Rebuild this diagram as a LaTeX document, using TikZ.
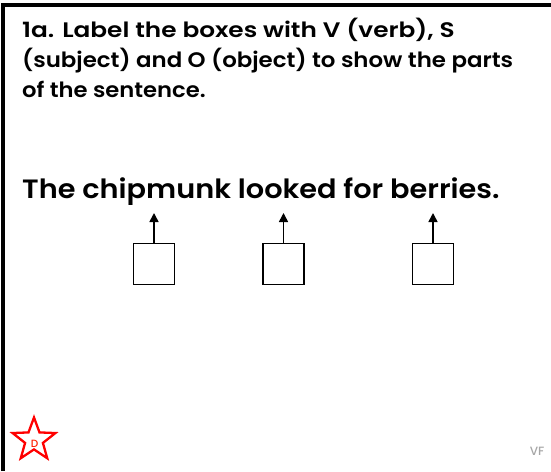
\documentclass[tikz,border=0pt]{standalone}
\usepackage{fontspec}
\setmainfont{Poppins}[UprightFont=* Medium, BoldFont=* SemiBold]
\newfontfamily\titlefonta{Poppins SemiBold}[FakeStretch=1.18]
\newfontfamily\titlefontb{Poppins SemiBold}[FakeStretch=1.09]
\newfontfamily\titlefontc{Poppins SemiBold}[FakeStretch=1.08]
\newfontfamily\sentfont{Poppins SemiBold}[FakeStretch=1.085]
\usetikzlibrary{arrows.meta,shapes.geometric}
\begin{document}
\begin{tikzpicture}[x=1pt,y=-1pt,
  txt/.style={anchor=base west, inner sep=0pt},
  answerbox/.style={draw, line width=1.4pt, minimum width=41pt, minimum height=41pt, inner sep=0pt},
  uparrow/.style={line width=1.6pt, -{Triangle[width=9pt,length=9pt]}}]
\useasboundingbox (0,0) rectangle (551,471);
\fill[white] (0,0) rectangle (551,471);
\draw[line width=3.5pt] (3,471) -- (3,5) -- (551,5);
\node[txt, font=\titlefonta\fontsize{21}{30}\selectfont] (l1) at (22,37) {1a. Label the boxes with V (verb), S};
\node[txt, font=\titlefontb\fontsize{21}{30}\selectfont] (l2) at (22,67) {(subject) and O (object) to show the parts};
\node[txt, font=\titlefontc\fontsize{21}{30}\selectfont] (l3) at (22,97) {of the sentence.};
\node[txt, font=\sentfont\fontsize{26.5}{30}\selectfont] (sent) at (22,198) {The chipmunk looked for berries.};
\node[answerbox] (b1) at (154,264) {};
\node[answerbox] (b2) at (283.5,264) {};
\node[answerbox] (b3) at (433,264) {};
\coordinate (t1) at (154,213);
\coordinate (t2) at (283.5,213);
\coordinate (t3) at (433,213);
\draw[uparrow] (b1.north) -- (t1);
\draw[uparrow] (b2.north) -- (t2);
\draw[uparrow] (b3.north) -- (t3);
\node[star, star points=5, star point ratio=2.4, draw=red, line width=2.3pt, minimum size=45pt, inner sep=0pt] (st) at (34,440) {};
\node[text=red!75!orange, font=\fontsize{10.5}{10.5}\selectfont] (d) at (34.5,444) {D};
\node[text=gray!70, font=\fontsize{12}{12}\selectfont, anchor=base] (vf) at (537,455) {VF};
\end{tikzpicture}
\end{document}
